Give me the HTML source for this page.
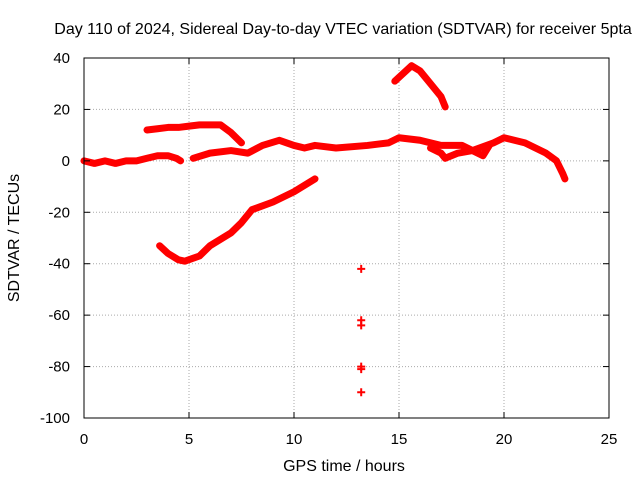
<!DOCTYPE html>
<html><head><meta charset="utf-8"><style>
body{margin:0;background:#fff}
svg{display:block;font-family:"Liberation Sans",sans-serif}
</style></head><body>
<svg id="chart" width="640" height="480">
<text x="343" y="34" text-anchor="middle" font-size="16">Day 110 of 2024, Sidereal Day-to-day VTEC variation (SDTVAR) for receiver 5pta</text>
<text x="344" y="471" text-anchor="middle" font-size="16">GPS time / hours</text>
<text transform="translate(19,238) rotate(-90)" text-anchor="middle" font-size="16">SDTVAR / TECUs</text>
<g id="grid"></g><g id="series"></g><g id="axes"></g>
</svg>
<script>
const xTicks=[0,5,10,15,20,25];
const yTicks=[40,20,0,-20,-40,-60,-80,-100];
const trackA=[[0,0],[0.5,-1],[1,0],[1.5,-1],[2,0],[2.5,0],[3,1],[3.5,2],[4,2],[4.4,1],[4.6,0]];
const trackB=[[3,12],[3.5,12.5],[4,13],[4.5,13],[5,13.5],[5.5,14],[6,14],[6.5,14],[7,11],[7.5,7]];
const trackC=[[3.6,-33],[4,-36],[4.5,-38.5],[4.8,-39],[5.5,-37],[6,-33],[7,-28],[7.5,-24],[8,-19],[9,-16],[10,-12],[11,-7]];
const trackD=[[5.2,1],[6,3],[7,4],[7.8,3],[8.5,6],[9.3,8],[10,6],[10.5,5],[11,6],[12,5],[13.5,6],[14.5,7],[15,9],[16,8],[17,6],[18,6],[18.5,4],[19.5,7],[20,9],[21,7],[22,3],[22.5,0],[22.8,-5],[22.9,-7]];
const trackE=[[16.5,5],[17,3],[17.2,1],[17.8,3],[18.5,4],[19,2],[19.3,6]];
const trackF=[[14.8,31],[15.2,34],[15.6,37],[16,35],[16.5,30],[17,25],[17.2,21]];
const outliers=[[13.2,-42],[13.2,-62],[13.2,-64],[13.2,-80],[13.2,-81],[13.2,-90]];
const X0=84,X1=609,Y0=58,Y1=418;
const sx=v=>X0+(v-0)/25*(X1-X0);
const sy=v=>Y0+(40-v)/140*(Y1-Y0);
const NS="http://www.w3.org/2000/svg";
function mk(t,a,p){const e=document.createElementNS(NS,t);for(const k in a)e.setAttribute(k,a[k]);p.appendChild(e);return e;}
const grid=document.getElementById('grid'),axes=document.getElementById('axes'),ser=document.getElementById('series');
xTicks.forEach(t=>{
 if(t>0&&t<25){const g=mk('line',{x1:sx(t),x2:sx(t),y1:Y0,y2:Y1,stroke:'#aaa','stroke-dasharray':'1,2'},grid);
 }
 const l=mk('text',{x:sx(t),y:Y1+26,'text-anchor':'middle','font-size':15},axes);l.textContent=t;
 
 mk('line',{x1:sx(t),x2:sx(t),y1:Y1,y2:Y1-6,stroke:'#000'},axes);
 mk('line',{x1:sx(t),x2:sx(t),y1:Y0,y2:Y0+6,stroke:'#000'},axes);
});
yTicks.forEach(t=>{
 if(t<40&&t>-100){const g=mk('line',{x1:X0,x2:X1,y1:sy(t),y2:sy(t),stroke:'#aaa','stroke-dasharray':'1,2'},grid);
 }
 const l=mk('text',{x:X0-14,y:sy(t)+5,'text-anchor':'end','font-size':15},axes);l.textContent=t;
 
 mk('line',{x1:X0,x2:X0+6,y1:sy(t),y2:sy(t),stroke:'#000'},axes);
 mk('line',{x1:X1,x2:X1-6,y1:sy(t),y2:sy(t),stroke:'#000'},axes);
});
const fr=mk('rect',{x:X0,y:Y0,width:X1-X0,height:Y1-Y0,fill:'none',stroke:'#000'},axes);

[trackA,trackB,trackC,trackD,trackE,trackF].forEach((tr,i)=>{
 const p=mk('polyline',{points:tr.map(d=>sx(d[0])+','+sy(d[1])).join(' '),fill:'none',stroke:'#f00','stroke-width':7,'stroke-linejoin':'round','stroke-linecap':'round'},ser);
 
 
});
outliers.forEach(d=>{
 const x=sx(d[0]),y=sy(d[1]);
 const p=mk('path',{d:`M${x-4},${y}H${x+4}M${x},${y-4}V${y+4}`,stroke:'#f00','stroke-width':2},ser);
 
 
});
</script>
</body></html>
